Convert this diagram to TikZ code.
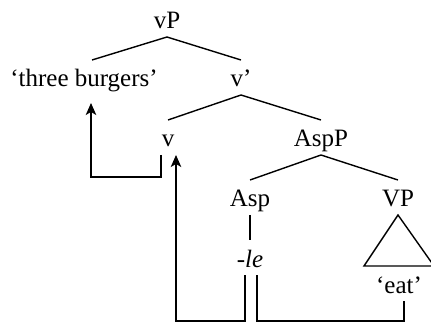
\documentclass[tikz,border=0pt]{standalone}
\usepackage{fontspec}
\setmainfont{Liberation Serif}
\usetikzlibrary{arrows.meta}
\tikzset{
  cat/.style={font=\fontsize{25}{28}\selectfont, inner sep=0pt,
    text height=24pt, text depth=5pt, outer ysep=3pt, anchor=base},
  branch/.style={draw=black, line width=1.4pt},
  move/.style={draw=black, line width=1.4pt,
    -{Stealth[length=12pt, width=10.5pt, inset=3pt]}},
}
\begin{document}
\begin{tikzpicture}[x=1pt, y=-1pt]
\useasboundingbox (0,0) rectangle (431,323);

\node[cat] (vP)   at (167,29)  {vP};
\node[cat] (burg) at (84,87)   {‘three burgers’};
\node[cat] (vbar) at (241,87)  {v’};
\node[cat] (v)    at (168,147) {v};
\node[cat] (AspP) at (321,147) {AspP};
\node[cat] (Asp)  at (250,207) {Asp};
\node[cat] (VP)   at (398,207) {VP};
\node[cat] (le)   at (250,267) {-\textit{le}};
\node[cat] (eat)  at (399,293) {‘eat’};

% tree
\draw[branch] (vP.south) -- ([xshift=8pt]burg.north);
\foreach \a/\b in {vP/vbar,vbar/v,vbar/AspP,AspP/Asp,AspP/VP,Asp/le} {
  \draw[branch] (\a.south) -- (\b.north);
}
\draw[branch] (VP.south) -- ([xshift=-35pt]eat.north)
  -- ([xshift=35pt]eat.north) -- cycle;

% movement
\draw[move, shorten >=8pt] ([xshift=-7pt]v.south) -- ++(0,22) -| ([xshift=7pt]burg.south);
\draw[move] ([xshift=-5pt]le.south) -- ++(0,46) -| ([xshift=8pt]v.south);
\draw[branch] ([xshift=7pt]le.south) -- ++(0,46) -| ([xshift=5pt]eat.south);

\end{tikzpicture}
\end{document}
